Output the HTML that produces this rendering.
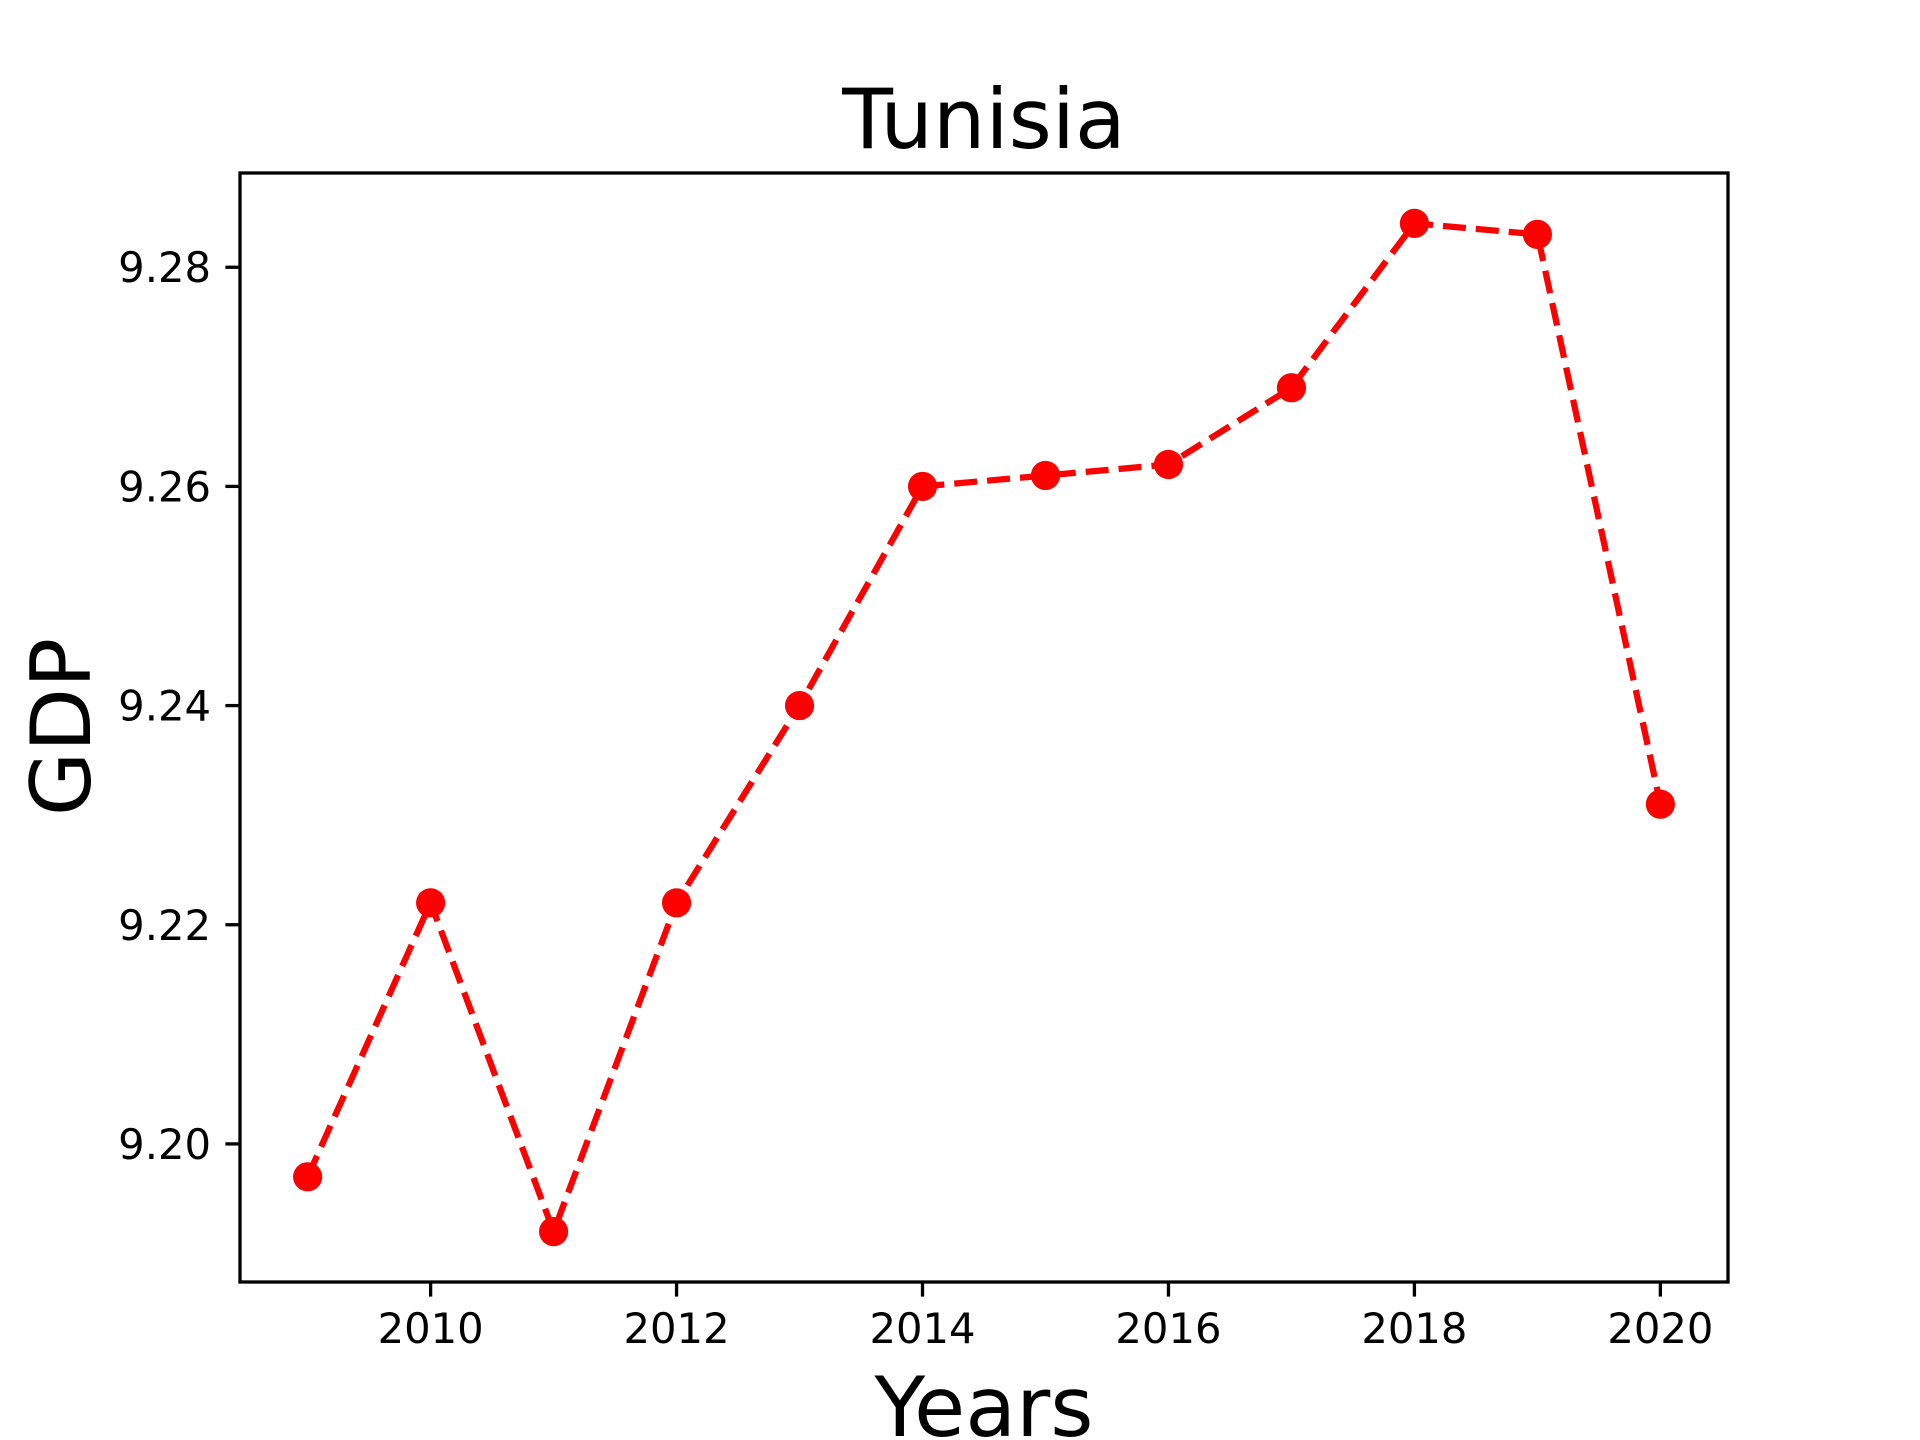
<!DOCTYPE html>
<html><head><meta charset="utf-8"><style>
html,body{margin:0;padding:0;background:#fff;}
svg{display:block;font-family:"DejaVu Sans","Liberation Sans",sans-serif;}
</style></head><body>
<svg id="chart" width="1920" height="1440" viewBox="0 0 1920 1440">
<rect x="0" y="0" width="1920" height="1440" fill="#fff"/>
<text x="984" y="148" font-size="83" text-anchor="middle">Tunisia</text>
<g id="ticks"></g>
<g id="series"></g>
<rect x="240" y="173" width="1488" height="1109" fill="none" stroke="#000" stroke-width="3.3"/>
<text x="984" y="1436" font-size="83" text-anchor="middle">Years</text>
<text x="0" y="0" font-size="83" text-anchor="middle" transform="translate(90,727) rotate(-90)">GDP</text>
</svg>
<script>
const years = [2009,2010,2011,2012,2013,2014,2015,2016,2017,2018,2019,2020];
const gdp = [9.197,9.222,9.192,9.222,9.240,9.260,9.261,9.262,9.269,9.284,9.283,9.231];
const xTicks = [2010,2012,2014,2016,2018,2020];
const yTicks = [9.20,9.22,9.24,9.26,9.28];
const yTickLabels = ["9.20","9.22","9.24","9.26","9.28"];

const L=240,R=1728,T=173,B=1282;
const xmin0=Math.min(...years), xmax0=Math.max(...years);
const ymin0=Math.min(...gdp), ymax0=Math.max(...gdp);
const xm=(xmax0-xmin0)*0.05, ym=(ymax0-ymin0)*0.05;
const xMin=xmin0-xm, xMax=xmax0+xm, yMin=ymin0-ym, yMax=ymax0+ym;
function sx(v){return L+(v-xMin)/(xMax-xMin)*(R-L);}
function sy(v){return B-(v-yMin)/(yMax-yMin)*(B-T);}
const NS="http://www.w3.org/2000/svg";
const tg=document.getElementById('ticks');
const sg=document.getElementById('series');
function mk(tag,attrs,parent){const e=document.createElementNS(NS,tag);for(const k in attrs)e.setAttribute(k,attrs[k]);parent.appendChild(e);return e;}
xTicks.forEach(function(t){
  const x=sx(t);
  const l=mk('line',{x1:x,x2:x,y1:B,y2:B+14.6,stroke:'#000','stroke-width':3.3},tg);
  
  
  const tx=mk('text',{x:x,y:1343,'font-size':41.7,'text-anchor':'middle'},tg);
  tx.textContent=String(t);
  
  
});
yTicks.forEach(function(t,i){
  const y=sy(t);
  const l=mk('line',{x1:L-14.6,x2:L,y1:y,y2:y,stroke:'#000','stroke-width':3.3},tg);
  
  
  const tx=mk('text',{x:211,y:y+15,'font-size':41.7,'text-anchor':'end'},tg);
  tx.textContent=yTickLabels[i];
  
  
});
const pts=years.map(function(yr,i){return sx(yr).toFixed(1)+','+sy(gdp[i]).toFixed(1);}).join(' ');
const pl=mk('polyline',{points:pts,fill:'none',stroke:'#ff0000','stroke-width':6.25,'stroke-dasharray':'23 10'},sg);


years.forEach(function(yr,i){
  const c=mk('circle',{cx:sx(yr),cy:sy(gdp[i]),r:14.6,fill:'#ff0000'},sg);
  
  
});
</script>
</body></html>
